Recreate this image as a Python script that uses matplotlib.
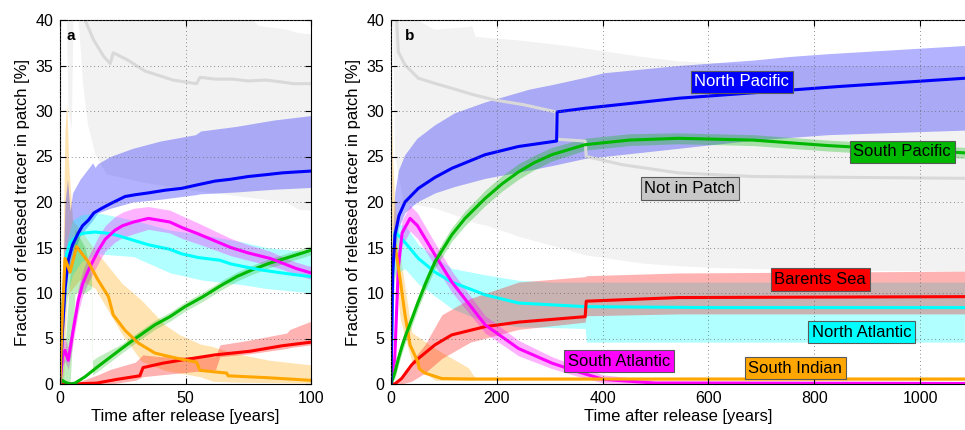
import matplotlib
matplotlib.use('Agg')
import matplotlib.pyplot as plt

plt.rcParams['font.family'] = ['Liberation Sans', 'DejaVu Sans']

# ---------------- panel a (0-100 years) ----------------
ta_gray = [8, 10, 13.4, 17.4, 20, 21.2, 27, 33.8, 45, 54.4, 55.8, 62, 69, 75, 82, 88, 93, 100]
va_gray = [41, 40, 37.8, 36, 35.2, 36.4, 35.6, 34.4, 33.4, 33.0, 33.7, 33.5, 33.5, 33.3, 33.4, 33.2, 33.0, 33.0]
tb_gray_a = [2.5, 3.2, 4.5, 5.2, 7, 9, 11, 14, 18.5, 33, 53, 73, 79, 90, 95, 100]
hi_gray_a = [41, 41, 41, 41, 41, 41, 41, 41, 41, 41, 41, 41, 39.4, 39.0, 38.6, 38.5]
lo_gray_a = [41, 30, 28, 41, 41, 33, 28.5, 25.2, 23.1, 22.2, 21.3, 20.6, 20.4, 20.0, 19.2, 19.1]

ta_np = [0, 1, 2, 3.3, 5, 7.3, 9, 11.3, 13.5, 16.6, 20, 25.9, 30, 35.2, 42, 48.5, 55, 61.8, 68, 75, 82, 88.5, 94, 100]
va_np = [0, 6, 10.5, 13.6, 15.3, 16.6, 17.4, 18.0, 18.8, 19.3, 19.8, 20.6, 20.8, 21.0, 21.3, 21.5, 21.9, 22.3, 22.5, 22.8, 23.0, 23.2, 23.3, 23.4]
tb_np_a = [0.5, 2, 3, 4, 5, 8, 13, 14, 15, 20, 29, 40, 54, 56, 70, 85, 100]
hi_np_a = [5, 20, 22.5, 19, 21, 22.5, 24.3, 23.8, 24.2, 25, 25.9, 26.7, 27.4, 27.8, 28.3, 29, 29.5]
lo_np_a = [0, 9, 12, 13, 14, 16.3, 18.0, 18.4, 18.8, 19.3, 20.0, 20.3, 20.8, 20.9, 21.1, 21.4, 21.6]

ta_na = [0, 1, 2, 2.6, 4, 7.3, 10, 13.9, 18, 21.9, 28, 35.2, 43.8, 48.5, 55, 63.7, 68, 75, 81, 88.5, 94, 100]
va_na = [0, 8, 12, 14.3, 15.5, 16.4, 16.6, 16.7, 16.6, 16.4, 15.9, 15.3, 14.8, 14.3, 13.9, 13.6, 13.2, 12.8, 12.5, 12.2, 12.0, 11.8]
tb_na_a = [1, 3, 5, 8.7, 15.3, 29.3, 44, 57, 73, 82, 100]
hi_na_a = [9, 16, 18, 18.6, 18.8, 18.0, 16.9, 16.4, 15.6, 15.0, 14.5]
lo_na_a = [6, 10, 12, 13.5, 14.3, 14.0, 12.2, 11.4, 10.9, 10.5, 10.0]

ta_sa = [0, 1, 2, 3.3, 5, 7.3, 9, 11.3, 15.3, 18, 21.9, 25, 29.3, 35.2, 43.8, 48.5, 55, 61.1, 68, 75, 83.7, 88.5, 94, 100]
va_sa = [0, 3.0, 3.7, 2.6, 5.5, 9.2, 11.0, 12.5, 14.7, 15.9, 16.9, 17.4, 17.8, 18.2, 17.8, 17.2, 16.5, 15.8, 15.0, 14.4, 13.8, 13.3, 12.7, 12.2]
hi_sa_a = [0.5, 4.5, 5.0, 4.0, 7, 10.6, 12.4, 14, 16.2, 17.4, 18.4, 18.9, 19.3, 19.5, 19.1, 18.5, 17.7, 16.9, 16.0, 15.3, 14.6, 14.0, 13.4, 12.9]
lo_sa_a = [0, 2.0, 2.5, 1.6, 4.2, 7.9, 9.7, 11.2, 13.3, 14.6, 15.6, 16.1, 16.5, 17.0, 16.6, 16.0, 15.4, 14.8, 14.1, 13.6, 13.0, 12.6, 12.0, 11.5]

ta_sp = [0, 1, 2, 4, 6, 10, 15, 24.6, 30, 37.8, 43.8, 49.8, 57, 64, 70.4, 77, 83.7, 92, 100]
va_sp = [0, 0.4, 0.2, 0, 0.1, 0.8, 1.9, 3.9, 5.0, 6.5, 7.4, 8.5, 9.6, 10.8, 11.8, 12.6, 13.3, 14.0, 14.7]
tb_sp_a = [0, 1, 2, 4, 6, 10, 12.5, 13, 15, 24.6, 30, 37.8, 43.8, 49.8, 57, 64, 70.4, 77, 83.7, 92, 100]
hi_sp_a = [0.3, 1.5, 4, 12, 17, 15, 12, 2.6, 3.0, 4.4, 5.5, 7.0, 7.9, 9.0, 10.1, 11.3, 12.3, 13.1, 13.8, 14.5, 15.2]
lo_sp_a = [0, 0, 0, 0, 10, 10, 10.5, 1.0, 1.4, 3.4, 4.5, 6.0, 6.9, 8.0, 9.1, 10.3, 11.3, 12.1, 12.8, 13.5, 14.2]

ta_si = [0, 1, 2, 4, 6.6, 11.3, 15, 19.3, 21.2, 25.9, 31.2, 37.8, 43.8, 47.1, 54.4, 55.8, 66.4, 67, 82, 94.3, 100]
va_si = [0, 8, 13.8, 12.3, 15.1, 13.4, 11.5, 9.6, 7.6, 5.9, 4.5, 3.4, 3.0, 2.8, 2.4, 1.5, 1.2, 0.9, 0.7, 0.5, 0.4]
tb_si_a = [0.5, 1.5, 2, 2.7, 3.5, 5, 8, 14, 24.6, 32.5, 41.8, 47.8, 55.8, 61, 69, 83.7, 100]
hi_si_a = [5, 20, 28, 31, 24, 18, 17, 14.7, 11.1, 9.2, 6.5, 5.4, 4.4, 4.1, 3.4, 2.6, 2.1]
lo_si_a = [0, 1, 5, 9, 10, 10.5, 11.5, 10.5, 5.5, 2.5, 1.5, 1.2, 0.8, 0.3, 0.2, 0.15, 0.1]

ta_bs = [0, 5, 14.6, 22.5, 31.8, 33.1, 41.2, 47.8, 61.8, 75.7, 88.5, 100]
va_bs = [0, 0, 0.1, 0.5, 0.9, 1.8, 2.3, 2.6, 3.2, 3.6, 4.2, 4.6]
tb_bs_a = [5, 15, 20, 30, 33, 40, 62, 63.7, 75, 90.3, 91.6, 100]
hi_bs_a = [0, 1.0, 1.6, 2.4, 3.2, 3.0, 3.0, 4.3, 4.8, 5.6, 6.0, 6.9]
lo_bs_a = [0, 0, 0, 0.4, 0.8, 1.0, 1.6, 3.0, 3.3, 3.9, 4.0, 4.3]

# ---------------- panel b (0-1085 years) ----------------
tb_gl = [5, 10.7, 13.9, 20, 26, 51.7, 85, 114.7, 155, 197, 250, 312, 313, 367, 369, 437, 543, 685, 1085]
vb_gl = [41, 40, 36.5, 35.8, 35.1, 33.6, 33.0, 32.5, 31.8, 31.2, 30.7, 29.9, 26.9, 26.7, 25.0, 24.1, 23.2, 22.8, 22.6]
tb_gray_b = [3, 7, 23, 77, 85, 150, 152, 159, 178, 243, 332, 367, 473, 543, 614, 755, 1085]
hi_gray_b = [41, 41, 41, 39.1, 39.0, 39.3, 39.5, 38.2, 38.1, 37.8, 37.2, 36.9, 36.0, 35.5, 35.3, 35.0, 35.0]
lo_gray_b = [41, 25, 20, 19.4, 19.3, 18.0, 17.9, 17.7, 17.5, 16.2, 14.8, 14.2, 13.3, 13.0, 12.8, 12.6, 12.4]

tb_npl = [0, 3, 7.6, 15, 26.5, 51.7, 83, 115, 178, 241, 313, 314, 367, 543, 755, 849, 1085]
vb_npl = [0, 12, 16.4, 18.5, 20.0, 21.5, 22.7, 23.7, 25.2, 26.1, 26.7, 29.9, 30.3, 31.4, 32.3, 32.7, 33.6]
tb_np_b = [2, 7, 14, 26, 49, 83, 120, 178, 261, 304, 367, 402, 543, 685, 755, 826, 1085]
hi_np_b = [15, 21, 23.5, 25.2, 27, 28.5, 29.8, 31, 32.4, 32.9, 33.7, 34.2, 35.0, 35.6, 36.0, 36.3, 37.2]
lo_np_b = [3, 14, 17.1, 18.8, 20.0, 21.0, 21.7, 22.6, 23.5, 24.0, 24.8, 25.0, 25.9, 26.8, 27.1, 27.4, 27.9]

tb_spl = [0, 7, 14, 21, 28, 36, 50, 65, 83, 100, 115, 140, 178, 210, 241, 270, 304, 367, 450, 543, 685, 826, 950, 1085]
vb_spl = [0, 1.2, 2.8, 4.2, 5.4, 6.6, 8.8, 11.0, 13.4, 15.0, 16.4, 18.2, 20.4, 22.0, 23.3, 24.3, 25.2, 26.3, 26.8, 27.0, 26.8, 26.2, 25.8, 25.4]
hi_sp_b = [0.3, 1.8, 3.5, 4.9, 6.1, 7.3, 9.5, 11.7, 14.1, 15.8, 17.2, 19.0, 21.3, 22.9, 24.2, 25.1, 26.0, 27.0, 27.5, 27.6, 27.4, 26.8, 26.4, 26.0]
lo_sp_b = [0, 0.6, 2.1, 3.5, 4.7, 5.9, 8.1, 10.3, 12.7, 14.3, 15.7, 17.4, 19.6, 21.2, 22.5, 23.5, 24.5, 25.7, 26.2, 26.4, 26.2, 25.6, 25.2, 24.8]

tb_nal = [0, 3, 7.6, 20, 51.7, 83, 115, 178, 241, 304, 367, 600, 1085]
vb_nal = [0, 12, 16.7, 16.0, 13.8, 12.3, 11.2, 9.8, 8.9, 8.7, 8.5, 8.4, 8.4]
tb_na_b = [2, 7, 26, 51.7, 115, 178, 241, 304, 367, 369, 600, 1085]
hi_na_b = [14, 17.5, 17.5, 15.3, 12.7, 12.0, 11.4, 11.2, 11.2, 11.2, 11.2, 11.2]
lo_na_b = [8, 12, 12.7, 11.0, 8.3, 6.8, 6.3, 6.2, 6.1, 4.6, 4.6, 4.6]

tb_bsl = [0, 7, 20, 39, 51.7, 83, 115, 178, 241, 367, 369, 543, 1085]
vb_bsl = [0, 0, 0.6, 2.1, 2.8, 4.3, 5.4, 6.3, 6.8, 7.4, 9.1, 9.5, 9.6]
tb_bs_b = [7, 20, 39, 64, 96, 150, 241, 367, 369, 543, 1085]
hi_bs_b = [0, 0.5, 2.5, 4.3, 7.6, 9.4, 11.2, 11.8, 11.9, 12.2, 12.4]
lo_bs_b = [0, 0, 0.3, 1.2, 2.8, 4.6, 6.0, 6.8, 7.5, 7.7, 7.7]

tb_sal = [0, 3, 7, 14, 21, 36, 50, 83, 115, 178, 241, 304, 350, 402, 500, 1085]
vb_sal = [0, 1.5, 2.7, 13.0, 16.6, 18.2, 17.4, 14.2, 11.2, 6.5, 3.9, 2.3, 1.4, 0.5, 0.1, 0.05]
hi_sa_b = [0.5, 2.8, 4.0, 14.5, 18.0, 19.6, 18.8, 15.5, 12.4, 7.5, 4.8, 3.0, 2.0, 1.0, 0.4, 0.3]
lo_sa_b = [0, 0.5, 1.5, 11.5, 15.2, 16.8, 16.0, 13.0, 10.1, 5.6, 3.1, 1.7, 0.9, 0.1, 0, 0]

tb_sil = [0, 1, 3, 7.6, 18, 26.5, 36, 51.7, 53, 64, 96, 150, 1085]
vb_sil = [0, 13.8, 14.2, 15.3, 11.2, 7.6, 4.3, 2.3, 1.7, 1.2, 0.6, 0.55, 0.55]
tb_si_b = [0.5, 1.5, 3, 7, 18, 39, 83, 146, 155, 160, 1085]
hi_si_b = [10, 30, 25, 20, 14, 5.7, 3.9, 1.8, 1.0, 0.7, 0.7]
lo_si_b = [0, 5, 10, 12, 7, 2.5, 0.4, 0.4, 0.4, 0.4, 0.4]

# labels of panel b
box_names = ['North Pacific', 'South Pacific', 'Not in Patch', 'Barents Sea',
             'North Atlantic', 'South Atlantic', 'South Indian']
box_t = [663, 966, 565, 811, 889, 431, 764]
box_v = [33.2, 25.5, 21.5, 11.5, 5.7, 2.5, 1.75]

c_np = (0, 0, 1)
c_sp = (0, 0.72, 0)
c_gray = (0.85, 0.85, 0.85)
c_bs = (1, 0, 0)
c_na = (0, 1, 1)
c_sa = (1, 0, 1)
c_si = (1, 0.65, 0)
box_fc = [c_np, c_sp, (0.78, 0.78, 0.78), c_bs, c_na, c_sa, c_si]
box_tc = ['white', 'black', 'black', 'black', 'black', 'black', 'black']

fig = plt.figure(figsize=(9.65, 4.3), dpi=100)
ax1 = fig.add_axes([60/965, 46/430, 251/965, 364/430])
ax2 = fig.add_axes([391/965, 46/430, 574/965, 364/430])

def band(ax, t, lo, hi, c, a=0.3):
    ax.fill_between(t, lo, hi, color=c, alpha=a, lw=0)

def line(ax, t, v, c):
    ax.plot(t, v, color=c, lw=2.2)

# panel a
ax1.fill_between(tb_gray_a, lo_gray_a, hi_gray_a, color=(0.95, 0.95, 0.95), lw=0)
band(ax1, tb_si_a, lo_si_a, hi_si_a, c_si)
band(ax1, tb_np_a, lo_np_a, hi_np_a, c_np)
band(ax1, tb_na_a, lo_na_a, hi_na_a, c_na)
band(ax1, ta_sa, lo_sa_a, hi_sa_a, c_sa)
band(ax1, tb_sp_a, lo_sp_a, hi_sp_a, c_sp, 0.25)
band(ax1, tb_bs_a, lo_bs_a, hi_bs_a, c_bs)
line(ax1, ta_gray, va_gray, c_gray)
line(ax1, ta_bs, va_bs, c_bs)
line(ax1, ta_sp, va_sp, c_sp)
line(ax1, ta_na, va_na, c_na)
line(ax1, ta_sa, va_sa, c_sa)
line(ax1, ta_np, va_np, c_np)
line(ax1, ta_si, va_si, c_si)

# panel b
ax2.fill_between(tb_gray_b, lo_gray_b, hi_gray_b, color=(0.95, 0.95, 0.95), lw=0)
band(ax2, tb_np_b, lo_np_b, hi_np_b, c_np)
band(ax2, tb_si_b, lo_si_b, hi_si_b, c_si)
band(ax2, tb_na_b, lo_na_b, hi_na_b, c_na)
band(ax2, tb_bs_b, lo_bs_b, hi_bs_b, c_bs)
band(ax2, tb_sal, lo_sa_b, hi_sa_b, c_sa)
band(ax2, tb_spl, lo_sp_b, hi_sp_b, c_sp)
line(ax2, tb_gl, vb_gl, c_gray)
line(ax2, tb_nal, vb_nal, c_na)
line(ax2, tb_bsl, vb_bsl, c_bs)
line(ax2, tb_sal, vb_sal, c_sa)
line(ax2, tb_sil, vb_sil, c_si)
line(ax2, tb_spl, vb_spl, c_sp)
line(ax2, tb_npl, vb_npl, c_np)

for name, t, v, fc, tc in zip(box_names, box_t, box_v, box_fc, box_tc):
    ax2.text(t, v, name, ha='center', va='center', fontsize=12, color=tc, zorder=10,
             bbox=dict(boxstyle='square,pad=0.22', fc=fc, ec=(0.35, 0.35, 0.35), lw=0.8))

for ax, xt, xl, lab in [(ax1, [0, 50, 100], (0, 100), 'a'),
                        (ax2, [0, 200, 400, 600, 800, 1000], (0, 1085), 'b')]:
    ax.set_xlim(*xl)
    ax.set_ylim(0, 40)
    ax.set_xticks(xt)
    ax.set_yticks(range(0, 41, 5))
    ax.grid(True, linestyle=(0, (1, 3.5)), color='0.4', lw=0.6)
    ax.set_axisbelow(False)
    ax.tick_params(direction='in', top=True, right=True, length=4, labelsize=11.5, pad=5)
    ax.set_xlabel('Time after release [years]', fontsize=12, labelpad=2)
    ax.set_ylabel('Fraction of released tracer in patch [%]', fontsize=12, labelpad=4)
    ax.text(0.025, 0.975, lab, transform=ax.transAxes, ha='left', va='top',
            fontsize=11, fontweight='bold')
    for s in ax.spines.values():
        s.set_linewidth(0.8)

ax2.spines['right'].set_visible(False)
ax2.tick_params(right=False)

fig.savefig('out.png', dpi=100)
